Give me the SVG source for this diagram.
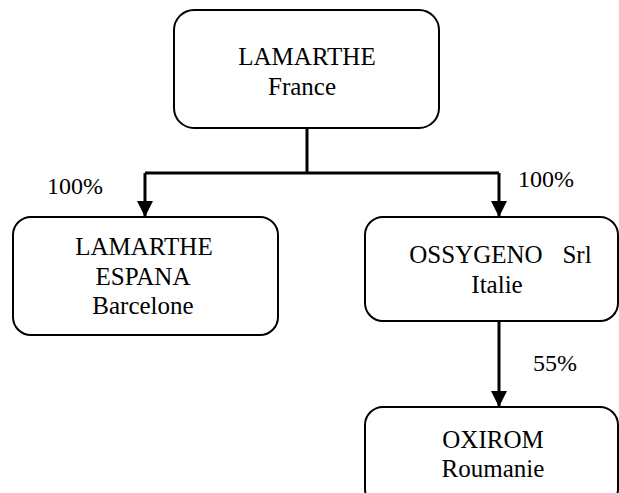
<svg xmlns="http://www.w3.org/2000/svg" width="619" height="493" viewBox="0 0 619 493">
<style>
.box{fill:#fff;stroke:#000;stroke-width:2}
.c{fill:none;stroke:#000;stroke-width:3}
.t{font-family:"Liberation Serif","Times New Roman",serif;font-size:25px;text-anchor:middle;fill:#000}
.p{font-family:"Liberation Serif","Times New Roman",serif;font-size:24px;fill:#000}
</style>
<defs>
<marker id="ah" markerUnits="userSpaceOnUse" markerWidth="18" markerHeight="16" refX="16" refY="8" orient="auto">
<path d="M0,0 L16,8 L0,16 Z" fill="#000"/>
</marker>
</defs>
<rect width="619" height="493" fill="#fff"/>
<g id="connectors">
<path class="c" d="M307,128 V173"/>
<path class="c" d="M145,173 H499"/>
<path class="c" d="M145,173 V217" marker-end="url(#ah)"/>
<path class="c" d="M499,173 V217" marker-end="url(#ah)"/>
<path class="c" d="M499,321 V407" marker-end="url(#ah)"/>
<text class="p" x="47" y="194">100%</text>
<text class="p" x="518" y="187">100%</text>
<text class="p" x="533" y="371">55%</text>
</g>
<g id="lamarthe-france">
<rect class="box" x="174" y="10" width="265" height="118" rx="20"/>
<text class="t" x="307" y="65">LAMARTHE</text>
<text class="t" x="302" y="95">France</text>
</g>
<g id="lamarthe-espana">
<rect class="box" x="13" y="217" width="265" height="118" rx="18"/>
<text class="t" x="144" y="255">LAMARTHE</text>
<text class="t" x="143" y="285">ESPANA</text>
<text class="t" x="143" y="314">Barcelone</text>
</g>
<g id="ossygeno">
<rect class="box" x="365" y="217" width="253" height="104" rx="18"/>
<text class="t" x="476" y="263">OSSYGENO</text>
<text class="t" x="577" y="263">Srl</text>
<text class="t" x="497" y="293">Italie</text>
</g>
<g id="oxirom">
<rect class="box" x="365" y="407" width="253" height="100" rx="18"/>
<text class="t" x="493" y="448">OXIROM</text>
<text class="t" x="493" y="477">Roumanie</text>
</g>
</svg>
